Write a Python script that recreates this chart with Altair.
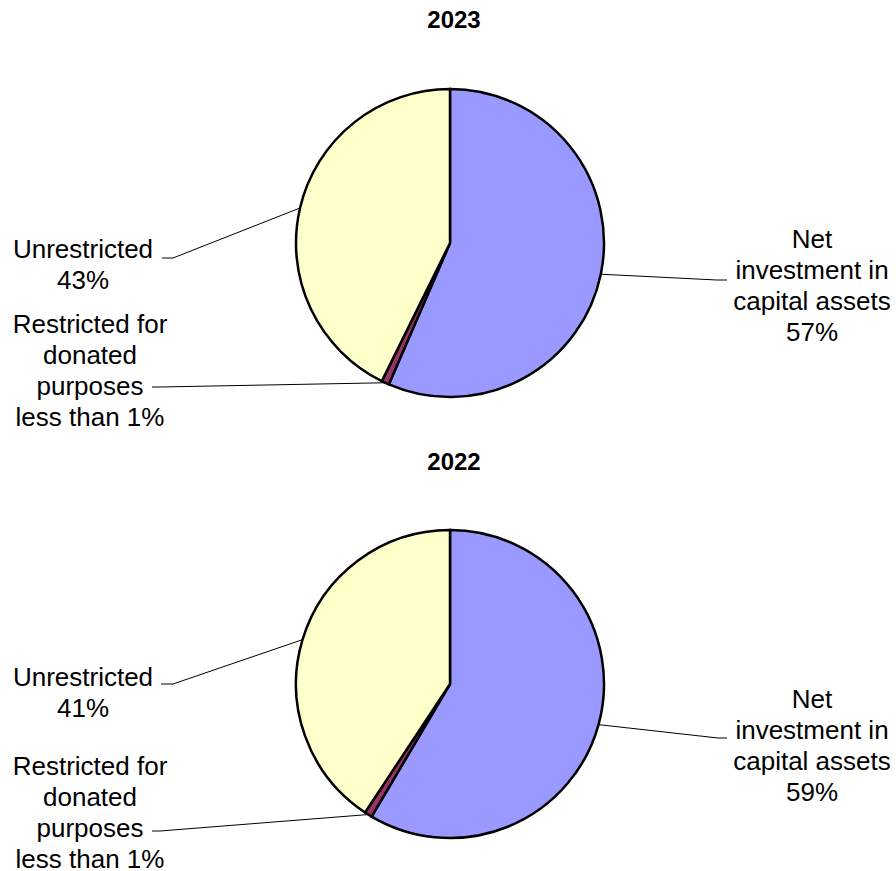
import altair as alt
import pandas as pd

# ---------------- data ----------------
years = ["2023", "2022"]
categories = [
    "Net investment in capital assets",
    "Restricted for donated purposes",
    "Unrestricted",
]
share_2023 = [56.5, 0.8, 42.7]
share_2022 = [58.5, 0.8, 40.7]
labels_2023 = [
    "Net\ninvestment in\ncapital assets\n57%",
    "Restricted for\ndonated\npurposes\nless than 1%",
    "Unrestricted\n43%",
]
labels_2022 = [
    "Net\ninvestment in\ncapital assets\n59%",
    "Restricted for\ndonated\npurposes\nless than 1%",
    "Unrestricted\n41%",
]

# ---------------- style / layout ----------------
colors = ["#9999FF", "#993366", "#FFFFCC"]
FONT = "Liberation Sans"
W, H = 896, 871
R = 154
PIE_CENTER = {"2023": (450, 243), "2022": (450, 684)}
TITLE_POS = {"2023": (454, 21), "2022": (454, 463)}
# first-line middle of each label
LABEL_POS = {
    "2023": [(812, 240), (90, 325), (83, 250)],
    "2022": [(812, 700), (90, 767), (83, 678)],
}
# leader elbow and end points
LEADER = {
    "2023": [((717, 280), (727, 280)), ((160, 387), (152, 387)), ((173, 258), (162, 258))],
    "2022": [((718, 738), (727, 738)), ((160, 831), (152, 831)), ((173, 684), (161, 684))],
}


def year_layers(year, shares, labels):
    cx, cy = PIE_CENTER[year]
    df = pd.DataFrame({
        "category": categories,
        "share": shares,
        "order": list(range(len(categories))),
        "label": labels,
        "lx": [p[0] for p in LABEL_POS[year]],
        "ly": [p[1] for p in LABEL_POS[year]],
        "ex": [p[0][0] for p in LEADER[year]],
        "ey": [p[0][1] for p in LEADER[year]],
        "tx": [p[1][0] for p in LEADER[year]],
        "ty": [p[1][1] for p in LEADER[year]],
    })
    base = alt.Chart(df)

    arc = base.mark_arc(radius=R, stroke="black", strokeWidth=2.5).encode(
        theta=alt.Theta("share:Q", stack=True, scale=alt.Scale(domain=[0, 100])),
        color=alt.Color("category:N",
                        scale=alt.Scale(domain=categories, range=colors),
                        legend=None),
        order=alt.Order("order:Q"),
        x=alt.value(cx),
        y=alt.value(cy),
    )

    seg1 = base.transform_window(
        cum="sum(share)", sort=[alt.SortField("order")], frame=[None, 0]
    ).transform_calculate(
        mid="(datum.cum - datum.share / 2) / 100 * 2 * PI",
        sx=f"{cx} + {R} * sin(datum.mid)",
        sy=f"{cy} - {R} * cos(datum.mid)",
    ).mark_rule(color="black", strokeWidth=1).encode(
        x=alt.X("sx:Q", scale=None, axis=None),
        y=alt.Y("sy:Q", scale=None, axis=None),
        x2="ex:Q",
        y2="ey:Q",
    )

    seg2 = base.mark_rule(color="black", strokeWidth=1).encode(
        x=alt.X("ex:Q", scale=None, axis=None),
        y=alt.Y("ey:Q", scale=None, axis=None),
        x2="tx:Q",
        y2="ty:Q",
    )

    text = base.mark_text(
        align="center", baseline="middle", fontSize=26, font=FONT,
        lineBreak="\n", lineHeight=31, color="black",
    ).encode(
        x=alt.X("lx:Q", scale=None, axis=None),
        y=alt.Y("ly:Q", scale=None, axis=None),
        text="label:N",
    )

    tx, ty = TITLE_POS[year]
    title = alt.Chart(pd.DataFrame({"year": [year]})).mark_text(
        align="center", baseline="middle", fontSize=24, fontWeight="bold",
        font=FONT, color="black",
    ).encode(text="year:N", x=alt.value(tx), y=alt.value(ty))

    return [seg1, seg2, arc, text, title]


layers = year_layers("2023", share_2023, labels_2023) + year_layers("2022", share_2022, labels_2022)

chart = alt.layer(*layers).properties(
    width=W, height=H, padding=0, autosize="none", background="white"
).configure_view(stroke=None)

chart.save("out.html", embed_options={"renderer": "svg", "actions": False})
